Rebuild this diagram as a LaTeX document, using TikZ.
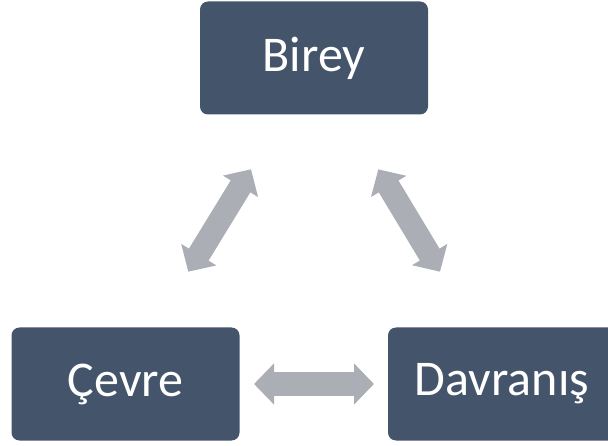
\documentclass[tikz,border=0pt]{standalone}
\usepackage{fontspec}
\setmainfont{Carlito}
\usetikzlibrary{arrows.meta}
\definecolor{boxfill}{HTML}{44546A}
\definecolor{arrowgray}{HTML}{ABAEB5}
\tikzset{
  box/.style={fill=boxfill, rounded corners=8pt, text=white, minimum width=228pt, minimum height=113pt, inner sep=0pt, font=\fontsize{50}{56}\selectfont},
  dblarrow/.style={draw=arrowgray, line width=23pt, {Triangle[width=40pt,length=20pt]}-{Triangle[width=40pt,length=20pt]}}
}
\begin{document}
\begin{tikzpicture}[x=1pt,y=-1pt]
\useasboundingbox (0,0) rectangle (608,446);
\node[box] (birey) at (314,58) {Birey};
\node[box] (cevre) at (125.5,384) {Çevre};
\node[box] (davranis) at (502,384) {Davranış};
\coordinate (a1) at (251,169.3);
\coordinate (a2) at (188.3,271.7);
\coordinate (b1) at (378.3,169.3);
\coordinate (b2) at (440,271.7);
\coordinate (c1) at (254,384);
\coordinate (c2) at (374,384);
\draw[dblarrow] (a1) -- (a2);
\draw[dblarrow] (b1) -- (b2);
\draw[dblarrow] (c1) -- (c2);
\end{tikzpicture}
\end{document}
